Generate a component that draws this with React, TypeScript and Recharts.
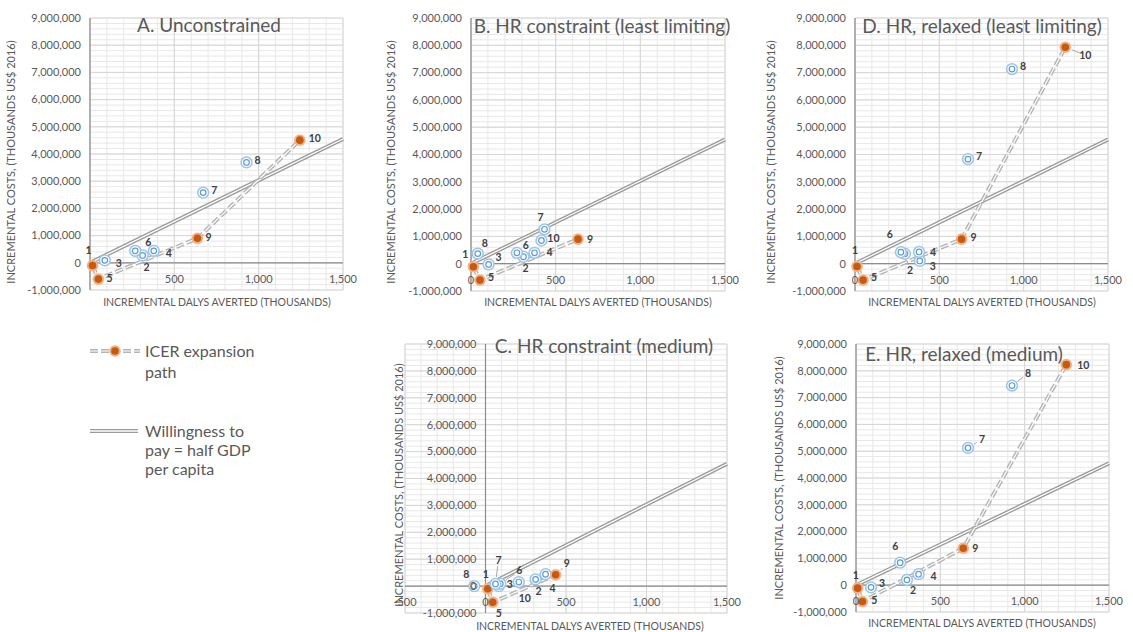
import React from 'react'
import { ComposedChart, Scatter, XAxis, YAxis, CartesianGrid } from 'recharts'

// intervention numbers shown next to the points
const ids = [1, 2, 3, 4, 5, 6, 7, 8, 9, 10]

// A. Unconstrained
const dalysA = [15, 312, 88, 378, 50, 268, 671, 928, 637, 1244]
const costsA = [-100000, 270000, 90000, 440000, -600000, 440000, 2580000, 3690000, 900000, 4510000]
const pathA = [1, 5, 9, 10]

// B. HR constraint (least limiting)
const dalysB = [14, 310, 104, 375, 53, 271, 434, 40, 632, 416]
const costsB = [-110000, 255000, -25000, 400000, -600000, 400000, 1260000, 370000, 900000, 850000]
const pathB = [1, 5, 9]

// C. HR constraint (medium)
const dalysC = [14, 311, 83, 373, 45, 92, 62, -70, 436, 207]
const costsC = [-100000, 250000, 0, 440000, -600000, 90000, 80000, 0, 420000, 150000]
const pathC = [1, 5, 9]

// D. HR, relaxed (least limiting)
const dalysD = [12, 296, 384, 380, 48, 272, 670, 931, 632, 1247]
const costsD = [-100000, 365000, 100000, 430000, -600000, 420000, 3830000, 7130000, 900000, 7930000]
const pathD = [1, 5, 9, 10]

// E. HR, relaxed (medium)
const dalysE = [10, 302, 89, 371, 38, 262, 664, 925, 636, 1247]
const costsE = [-110000, 200000, -80000, 410000, -610000, 840000, 5120000, 7450000, 1380000, 8230000]
const pathE = [1, 5, 9, 10]

// willingness to pay = half GDP per capita
const wtpDalys = [0, 1500]
const wtpCosts = [0, 4550000]

const costTicks = [-1000000, 0, 1000000, 2000000, 3000000, 4000000, 5000000, 6000000, 7000000, 8000000, 9000000]
const dalyTicks = [0, 500, 1000, 1500]
const dalyTicksA = [500, 1000, 1500]
const dalyTicksC = [-500, 0, 500, 1000, 1500]

// label offsets [dx, dy, leader line]
type Place = [number, number, number?]
const labelsA: Record<number, Place> = {
  1: [-4, -15], 2: [4, 12], 3: [14, 3], 4: [15, 2], 5: [11, -1],
  6: [13, -9], 7: [11, -2], 8: [11, -2], 9: [11, -1], 10: [15, -2],
}
const labelsB: Record<number, Place> = {
  1: [-8, -12], 2: [2, 12], 3: [10, -7], 4: [15, 0], 5: [11, -3],
  6: [9, -7], 7: [-4, -12], 8: [7, -10], 9: [12, 0], 10: [12, -2],
}
const labelsC: Record<number, Place> = {
  1: [-2, -14], 2: [3, 12], 3: [11, -2], 4: [7, 14], 5: [6, 11],
  6: [19, -13, 1], 7: [3, -24, 1], 8: [-8, -12], 9: [11, -11, 1], 10: [6, 16],
}
const labelsD: Record<number, Place> = {
  1: [-2, -16], 2: [5, 17, 1], 3: [13, 5, 1], 4: [14, 0], 5: [11, -3],
  6: [-11, -18], 7: [11, -3], 8: [11, -3], 9: [12, -2], 10: [20, 8, 1],
}
const labelsE: Record<number, Place> = {
  1: [-2, -13], 2: [6, 10], 3: [11, -4], 4: [15, 2], 5: [12, -1],
  6: [-5, -16], 7: [14, -9, 1], 8: [16, -12, 1], 9: [12, 0], 10: [17, 1],
}

const GREY = '#595959'
const FONT = 'Lato, "Open Sans", sans-serif'
const PAD_L = 90
const PAD_T = 10
const PAD_R = 14
const PAD_B = 40
const COST_MIN = -1000000
const COST_MAX = 9000000
const DALY_MAX = 1500

const steps = (from: number, to: number, step: number) => {
  const out: number[] = []
  for (let v = from; v <= to + 1e-6; v += step) out.push(v)
  return out
}
const fmt = (v: number) => v.toLocaleString('en-US')

interface PanelCfg {
  title: string
  dalys: number[]
  costs: number[]
  path: number[]
  labels: Record<number, Place>
  xTicks: number[]
  xMin: number
  left: number
  top: number
  w: number
  h: number
  titleX: number
  titleY: number
  yTitleX: number
  yTitleY: number
  xTitleX: number
  xTitleY: number
}

const panels: PanelCfg[] = [
  {
    title: 'A. Unconstrained', dalys: dalysA, costs: costsA, path: pathA, labels: labelsA,
    xTicks: dalyTicksA, xMin: 0, left: 90, top: 18, w: 253, h: 272,
    titleX: 209, titleY: 24, yTitleX: 10, yTitleY: 162, xTitleX: 217, xTitleY: 302,
  },
  {
    title: 'B. HR constraint (least limiting)', dalys: dalysB, costs: costsB, path: pathB, labels: labelsB,
    xTicks: dalyTicks, xMin: 0, left: 471, top: 18, w: 254, h: 273,
    titleX: 602, titleY: 25, yTitleX: 390, yTitleY: 162, xTitleX: 598, xTitleY: 302,
  },
  {
    title: 'D. HR, relaxed (least limiting)', dalys: dalysD, costs: costsD, path: pathD, labels: labelsD,
    xTicks: dalyTicks, xMin: 0, left: 855, top: 18, w: 253, h: 273,
    titleX: 982, titleY: 25, yTitleX: 770, yTitleY: 162, xTitleX: 982, xTitleY: 302,
  },
  {
    title: 'C. HR constraint (medium)', dalys: dalysC, costs: costsC, path: pathC, labels: labelsC,
    xTicks: dalyTicksC, xMin: -500, left: 405, top: 344, w: 322, h: 269,
    titleX: 604, titleY: 345, yTitleX: 398, yTitleY: 485, xTitleX: 590, xTitleY: 626,
  },
  {
    title: 'E. HR, relaxed (medium)', dalys: dalysE, costs: costsE, path: pathE, labels: labelsE,
    xTicks: dalyTicks, xMin: 0, left: 856, top: 344, w: 253, h: 268,
    titleX: 964, titleY: 353, yTitleX: 778, yTitleY: 478, xTitleX: 982, xTitleY: 623,
  },
]

const emptyShape = () => <g />

const markerShape = (props: any) => {
  const { cx, cy, payload } = props
  if (payload.onPath) {
    return (
      <g>
        <circle cx={cx} cy={cy} r={5.8} fill="#F4B183" />
        <circle cx={cx} cy={cy} r={3.8} fill="#C55A11" />
      </g>
    )
  }
  return (
    <g>
      <circle cx={cx} cy={cy} r={5.4} fill="#ffffff" stroke="#9DC3E6" strokeWidth={1.5} />
      <circle cx={cx} cy={cy} r={2.8} fill="#ffffff" stroke="#5B9BD5" strokeWidth={1.2} />
    </g>
  )
}

const labelShape = (labels: Record<number, Place>) => (props: any) => {
  const { cx, cy, payload } = props
  const [dx, dy, leader] = labels[payload.id]
  const len = Math.hypot(dx, dy) || 1
  const ux = dx / len
  const uy = dy / len
  return (
    <g>
      {leader ? (
        <line
          x1={cx + ux * 7}
          y1={cy + uy * 7}
          x2={cx + dx - ux * 6}
          y2={cy + dy - uy * 6}
          stroke="#A6A6A6"
          strokeWidth={1}
        />
      ) : null}
      <text
        x={cx + dx}
        y={cy + dy}
        dy="0.35em"
        textAnchor="middle"
        fontSize={10.5}
        fontWeight={700}
        fill="#404040"
        fontFamily={FONT}
      >
        {payload.id}
      </text>
    </g>
  )
}

// grid line positions: use the axis scale when it is handed over, else map linearly on the plot box
const hGrid = (values: number[]) => ({ yAxis, offset }: any) =>
  values.map(v =>
    yAxis && typeof yAxis.scale === 'function'
      ? yAxis.scale(v)
      : offset.top + ((COST_MAX - v) / (COST_MAX - COST_MIN)) * offset.height,
  )
const vGrid = (values: number[], xMin: number) => ({ xAxis, offset }: any) =>
  values.map(v =>
    xAxis && typeof xAxis.scale === 'function'
      ? xAxis.scale(v)
      : offset.left + ((v - xMin) / (DALY_MAX - xMin)) * offset.width,
  )

const Panel = ({ cfg }: { cfg: PanelCfg }) => {
  const chartW = PAD_L + cfg.w + PAD_R
  const chartH = PAD_T + cfg.h + PAD_B
  const zeroY = PAD_T + cfg.h * 0.9
  const zeroX = PAD_L + ((0 - cfg.xMin) / (DALY_MAX - cfg.xMin)) * cfg.w

  const points = ids.map((id, i) => ({
    id,
    x: cfg.dalys[i],
    y: cfg.costs[i],
    onPath: cfg.path.includes(id),
  }))
  const pathPts = cfg.path.map(id => points[id - 1])
  const wtpPts = wtpDalys.map((x, i) => ({ x, y: wtpCosts[i] }))
  const xAxisPts = [{ x: cfg.xMin, y: 0 }, { x: DALY_MAX, y: 0 }]
  const yAxisPts = [{ x: 0, y: COST_MIN }, { x: 0, y: COST_MAX }]

  const minorCost = steps(COST_MIN, COST_MAX, 200000)
  const minorDaly = steps(cfg.xMin, DALY_MAX, 100)
  const majorDaly = steps(cfg.xMin, DALY_MAX, 500)

  return (
    <>
      <div style={{ position: 'absolute', left: cfg.left - PAD_L, top: cfg.top - PAD_T }}>
        <ComposedChart width={chartW} height={chartH} margin={{ top: PAD_T, right: PAD_R, bottom: 0, left: 0 }}>
          <CartesianGrid
            stroke="#E8E8E8"
            horizontalCoordinatesGenerator={hGrid(minorCost)}
            verticalCoordinatesGenerator={vGrid(minorDaly, cfg.xMin)}
          />
          <CartesianGrid
            stroke="#D6D6D6"
            horizontalCoordinatesGenerator={hGrid(costTicks)}
            verticalCoordinatesGenerator={vGrid(majorDaly, cfg.xMin)}
          />
          <XAxis
            type="number"
            dataKey="x"
            domain={[cfg.xMin, DALY_MAX]}
            ticks={cfg.xTicks}
            interval={0}
            height={PAD_B}
            axisLine={false}
            tickLine={false}
            tick={(p: any) => (
              <text x={p.x} y={zeroY + 20} textAnchor="middle" fontSize={11} fill={GREY} fontFamily={FONT}>
                {fmt(p.payload.value)}
              </text>
            )}
          />
          <YAxis
            type="number"
            dataKey="y"
            domain={[COST_MIN, COST_MAX]}
            ticks={costTicks}
            interval={0}
            width={PAD_L}
            axisLine={false}
            tickLine={false}
            tick={(p: any) => (
              <text x={zeroX - 9} y={p.y} dy="0.35em" textAnchor="end" fontSize={11} fill={GREY} fontFamily={FONT}>
                {fmt(p.payload.value)}
              </text>
            )}
          />
          <Scatter data={yAxisPts} shape={emptyShape} line={{ stroke: '#8C8C8C', strokeWidth: 1.2 }} isAnimationActive={false} />
          <Scatter data={xAxisPts} shape={emptyShape} line={{ stroke: '#8C8C8C', strokeWidth: 1.2 }} isAnimationActive={false} />
          <Scatter data={wtpPts} shape={emptyShape} line={{ stroke: '#9A9A9A', strokeWidth: 4 }} isAnimationActive={false} />
          <Scatter data={wtpPts} shape={emptyShape} line={{ stroke: '#FFFFFF', strokeWidth: 1.3 }} isAnimationActive={false} />
          <Scatter
            data={pathPts}
            shape={emptyShape}
            line={{ stroke: '#B4B4B4', strokeWidth: 4, strokeDasharray: '8 3' }}
            isAnimationActive={false}
          />
          <Scatter
            data={pathPts}
            shape={emptyShape}
            line={{ stroke: '#FFFFFF', strokeWidth: 1.2, strokeDasharray: '8 3' }}
            isAnimationActive={false}
          />
          <Scatter data={points} shape={markerShape} isAnimationActive={false} />
          <Scatter data={points} shape={labelShape(cfg.labels)} isAnimationActive={false} />
        </ComposedChart>
      </div>
      <div
        style={{
          position: 'absolute', left: cfg.titleX, top: cfg.titleY, transform: 'translate(-50%, -50%)',
          whiteSpace: 'nowrap', fontSize: 19, color: GREY, lineHeight: 1,
        }}
      >
        {cfg.title}
      </div>
      <div
        style={{
          position: 'absolute', left: cfg.yTitleX, top: cfg.yTitleY, transform: 'translate(-50%, -50%) rotate(-90deg)',
          whiteSpace: 'nowrap', fontSize: 11, color: GREY, lineHeight: 1,
        }}
      >
        INCREMENTAL COSTS, (THOUSANDS US$ 2016)
      </div>
      <div
        style={{
          position: 'absolute', left: cfg.xTitleX, top: cfg.xTitleY, transform: 'translate(-50%, -50%)',
          whiteSpace: 'nowrap', fontSize: 10.5, color: GREY, lineHeight: 1,
        }}
      >
        INCREMENTAL DALYS AVERTED (THOUSANDS)
      </div>
    </>
  )
}

const Legend = () => (
  <>
    <svg style={{ position: 'absolute', left: 0, top: 0 }} width={150} height={480}>
      <line x1={90} y1={351} x2={140} y2={351} stroke="#B4B4B4" strokeWidth={4} strokeDasharray="8 3" />
      <line x1={90} y1={351} x2={140} y2={351} stroke="#FFFFFF" strokeWidth={1.2} strokeDasharray="8 3" />
      <circle cx={115} cy={351} r={5.8} fill="#F4B183" />
      <circle cx={115} cy={351} r={3.8} fill="#C55A11" />
      <line x1={90} y1={431} x2={138} y2={431} stroke="#9A9A9A" strokeWidth={4} />
      <line x1={90} y1={431} x2={138} y2={431} stroke="#FFFFFF" strokeWidth={1.3} />
    </svg>
    <div style={{ position: 'absolute', left: 145, top: 340, fontSize: 16, lineHeight: '21px', color: GREY }}>
      ICER expansion
      <br />
      path
    </div>
    <div style={{ position: 'absolute', left: 145, top: 421, fontSize: 16, lineHeight: '19px', color: GREY }}>
      Willingness to
      <br />
      pay = half GDP
      <br />
      per capita
    </div>
  </>
)

export default function App() {
  return (
    <div
      style={{
        position: 'absolute', left: 0, top: 0, width: 1133, height: 632,
        background: '#ffffff', overflow: 'hidden', fontFamily: FONT,
      }}
    >
      {panels.map(cfg => (
        <Panel key={cfg.title} cfg={cfg} />
      ))}
      <Legend />
    </div>
  )
}
